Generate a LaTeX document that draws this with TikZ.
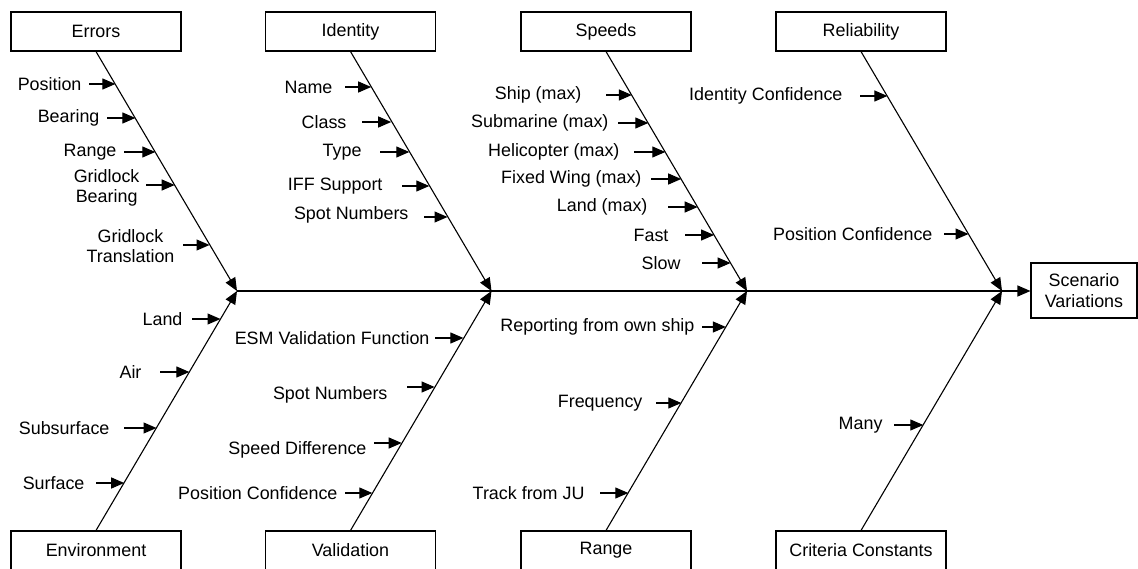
\documentclass[tikz,border=0pt]{standalone}
\usepackage{fontspec}
\setmainfont{Liberation Sans}
\usetikzlibrary{arrows.meta}

% one cause arrow: name, tip x, y, tail x, label right edge, label y, text
\newcommand\causearrow[7]{%
  \coordinate (#1-tip) at (#2,#3);
  \coordinate (#1-tail) at (#4,#3);
  \node[lbl,anchor=east] (#1) at (#5,#6) {#7};
  \draw[sub] (#1-tail) -- (#1-tip);
}

\begin{document}
\begin{tikzpicture}[x=1pt,y=-1pt,
  line width=1.1pt,
  every node/.style={font=\fontsize{17.9}{20.6}\selectfont},
  catbox/.style={draw,line width=1.1pt,minimum width=170pt,minimum height=39pt,inner sep=0pt},
  effectbox/.style={draw,line width=1.1pt,minimum width=106pt,minimum height=55pt,inner sep=0pt,align=center},
  lbl/.style={inner sep=0pt,align=center},
  tip/.style={-{Triangle[length=13pt,width=11pt]}},
  bone/.style={tip},
  sub/.style={tip},
]
\useasboundingbox (0,0) rectangle (1138,569);

% category boxes
\node[catbox] (errors)      at (96,31.5)    {Errors};
\node[catbox] (identity)    at (350.5,31.5) {Identity};
\node[catbox] (speeds)      at (606,31.5)   {Speeds};
\node[catbox] (reliability) at (861,31.5)   {Reliability};
\node[catbox] (environment) at (96,550.5)    {Environment};
\node[catbox] (validation)  at (350.5,550.5) {Validation};
\node[catbox] (range)       at (606,550.5)   {Range};
\node[catbox] (criteria)    at (861,550.5)   {Criteria Constants};

% effect
\node[effectbox] (effect) at (1084,290.5) {Scenario\\Variations};

% spine junctions
\coordinate (j1) at (237,291);
\coordinate (j2) at (491.5,291);
\coordinate (j3) at (747,291);
\coordinate (j4) at (1002,291);

% spine
\draw[tip] (j1) -- (j1 -| effect.west);

% bones
\draw[bone] (errors.south) -- (j1);
\draw[bone] (identity.south) -- (j2);
\draw[bone] (speeds.south) -- (j3);
\draw[bone] (reliability.south) -- (j4);
\draw[bone] (environment.north) -- (j1);
\draw[bone] (validation.north) -- (j2);
\draw[bone] (range.north) -- (j3);
\draw[bone] (criteria.north) -- (j4);

% Errors
\causearrow{e1}{115.4}{84}{89}{82}{84}{Position}
\causearrow{e2}{135.4}{118}{107}{100}{118}{Bearing}
\causearrow{e3}{155.3}{152}{124}{117}{152}{Range}
\causearrow{e4}{174.7}{185}{146}{140}{188}{Gridlock\\Bearing}
\causearrow{e5}{209.5}{245}{183}{175}{246}{Gridlock\\Translation}

% Identity
\causearrow{i1}{371.2}{87}{345}{333}{87}{Name}
\causearrow{i2}{391.2}{122}{362}{347}{122}{Class}
\causearrow{i3}{409.3}{152}{380}{362}{152}{Type}
\causearrow{i4}{429.3}{186}{402}{383}{186}{IFF Support}
\causearrow{i5}{447.5}{217}{424}{409}{215}{Spot Numbers}

% Speeds
\causearrow{s1}{631.9}{95}{606}{582}{95}{Ship (max)}
\causearrow{s2}{648.3}{123}{618}{609}{123}{Submarine (max)}
\causearrow{s3}{665.3}{152}{634}{620}{152}{Helicopter (max)}
\causearrow{s4}{681.2}{179}{651}{642}{179}{Fixed Wing (max)}
\causearrow{s5}{697.7}{207}{668}{648}{207}{Land (max)}
\causearrow{s6}{714.1}{235}{685}{669}{235}{Fast}
\causearrow{s7}{730.6}{263}{702}{681}{263}{Slow}

% Reliability
\causearrow{r1}{887.4}{96}{860}{843}{96}{Identity Confidence}
\causearrow{r2}{968.5}{234}{944}{933}{234}{Position Confidence}

% Environment
\causearrow{n1}{220.5}{319}{192}{183}{319}{Land}
\causearrow{n2}{189.4}{372}{160}{142}{372}{Air}
\causearrow{n3}{156.5}{428}{124}{110}{428}{Subsurface}
\causearrow{n4}{124.2}{483}{96}{85}{483}{Surface}

% Validation
\causearrow{v1}{463.4}{338}{435}{430}{338}{ESM Validation Function}
\causearrow{v2}{434.6}{387}{407}{388}{395}{Spot Numbers}
\causearrow{v3}{401.7}{443}{374}{367}{450}{Speed Difference}
\causearrow{v4}{372.3}{493}{345}{338}{493}{Position Confidence}

% Range
\causearrow{g1}{725.9}{327}{702}{695}{327}{Reporting from own ship}
\causearrow{g2}{681.3}{403}{656}{643}{403}{Frequency}
\causearrow{g3}{628.3}{493}{600}{585}{493}{Track from JU}

% Criteria Constants
\causearrow{c1}{923.3}{425}{894}{883}{425}{Many}
\end{tikzpicture}
\end{document}
